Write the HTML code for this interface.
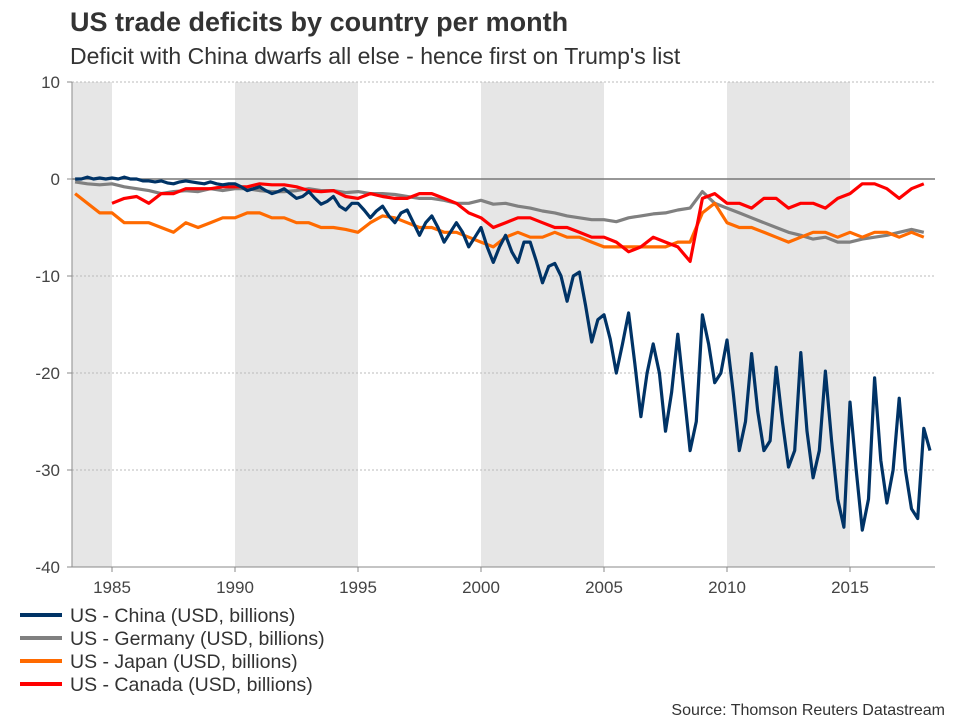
<!DOCTYPE html>
<html><head><meta charset="utf-8"><style>
body{margin:0;background:#fff;}
svg{display:block;font-family:"Liberation Sans",sans-serif;}
</style></head><body>
<svg id="chart" width="960" height="720" viewBox="0 0 960 720">
<text x="70" y="31" font-size="27" font-weight="bold" fill="#333">US trade deficits by country per month</text>
<text x="70" y="64" font-size="23" fill="#333">Deficit with China dwarfs all else - hence first on Trump's list</text>
<g id="bands"></g><g id="grid"></g><g id="axes"></g><g id="series"></g><g id="legend"></g>
<text x="945" y="715" font-size="16" fill="#333" text-anchor="end">Source: Thomson Reuters Datastream</text>
</svg>
<script>
const yTicks=[10,0,-10,-20,-30,-40];
const xTicks=[1985,1990,1995,2000,2005,2010,2015];
const bandsData=[[1983.4,1985],[1990,1995],[2000,2005],[2010,2015]];
const chinaStart=1983.5;
const china=[0,0, 0.2,0,0.1,0, 0.1,0,0.2,0, 0,-0.2,-0.2,-0.3, -0.2,-0.4,-0.5,-0.3, -0.2,-0.3,-0.4,-0.5, -0.3,-0.5,-0.6,-0.5,
-0.5,-0.8,-1.2,-1, -0.8,-1.2,-1.5,-1.3, -1,-1.5,-2,-1.8, -1.3,-2,-2.6,-2.3, -1.8,-2.8,-3.2,-2.5, -2.5,-3.2,-4,-3.3,
-2.8,-3.8,-4.5,-3.5, -3.2,-4.5,-5.8,-4.5, -3.8,-5,-6.5,-5.5, -4.5,-5.5,-7,-6, -5,-7,-8.6,-7, -5.8,-7.5,-8.6,-6.5,
-6.5,-8.5,-10.7,-9, -8.7,-10,-12.6,-10, -9.6,-13,-16.8,-14.5, -14,-16.5,-20,-17, -13.8,-19,-24.5,-20, -17,-20,-26,-22,
-16,-22,-28,-25, -14,-17,-21,-20, -16.6,-22,-28,-25, -18,-24,-28,-27, -19.4,-25,-29.7,-28, -17.9,-26,-30.8,-28,
-19.8,-27,-33,-35.9, -23,-30,-36.2,-33, -20.5,-29,-33.4,-30, -22.6,-30,-34,-35, -25.7,-28];
const semiStart=1983.5;
const germany=[-0.3, -0.5,-0.6, -0.5,-0.8, -1,-1.2, -1.5,-1.3, -1.2,-1.3, -1,-1.2, -1,-1, -1.2,-1.3, -1.3,-1.2, -1,-1.2, -1.2,-1.4, -1.3,-1.5,
-1.5,-1.6, -1.8,-2, -2,-2.2, -2.5,-2.5, -2.2,-2.6, -2.5,-2.8, -3,-3.3, -3.5,-3.8, -4,-4.2, -4.2,-4.4, -4,-3.8, -3.6,-3.5, -3.2,-3,
-1.3,-2.5, -3,-3.5, -4,-4.5, -5,-5.5, -5.8,-6.2, -6,-6.5, -6.5,-6.2, -6,-5.8, -5.5,-5.2, -5.5];
const japan=[-1.5, -2.5,-3.5, -3.5,-4.5, -4.5,-4.5, -5,-5.5, -4.5,-5, -4.5,-4, -4,-3.5, -3.5,-4, -4,-4.5, -4.5,-5, -5,-5.2, -5.5,-4.5,
-3.8,-4, -4.5,-5, -5,-5.5, -5.5,-6, -6.5,-7, -6,-5.5, -6,-6, -5.5,-6, -6,-6.5, -7,-7, -7,-7, -7,-7, -6.5,-6.5,
-3.5,-2.5, -4.5,-5, -5,-5.5, -6,-6.5, -6,-5.5, -5.5,-6, -5.5,-6, -5.5,-5.5, -6,-5.5, -6];
const canadaStart=1985;
const canada=[-2.5,-2, -1.8,-2.5, -1.5,-1.5, -1,-1, -1,-0.8, -0.8,-0.8, -0.5,-0.6, -0.6,-0.8, -1.2,-1.3, -1.2,-1.8, -2,-1.5,
-1.8,-2, -2,-1.5, -1.5,-2, -2.5,-3.5, -4,-5, -4.5,-4, -4,-4.5, -5,-5, -5.5,-6, -6,-6.5, -7.5,-7, -6,-6.5, -7,-8.5,
-2,-1.5, -2.5,-2.5, -3,-2, -2,-3, -2.5,-2.5, -3,-2, -1.5,-0.5, -0.5,-1, -2,-1, -0.5];
const seriesNames=["US - China (USD, billions)","US - Germany (USD, billions)","US - Japan (USD, billions)","US - Canada (USD, billions)"];
const NS="http://www.w3.org/2000/svg";
const X0=72,X1=935,Y0=82,Y1=567;
const xS=t=>112+(t-1985)*24.6;
const yS=v=>179-v*9.7;
function mk(tag,attrs,parent){const e=document.createElementNS(NS,tag);for(const k in attrs)e.setAttribute(k,attrs[k]);parent.appendChild(e);return e;}
const bands=document.getElementById('bands');
bandsData.forEach(b=>{const r=mk('rect',{x:xS(b[0]),y:Y0,width:xS(b[1])-xS(b[0]),height:Y1-Y0,fill:'#e6e6e6'},bands);

});
const grid=document.getElementById('grid');
yTicks.forEach(v=>{
 if(v!==0&&v!==-40){const l=mk('line',{x1:X0,x2:X1,y1:yS(v),y2:yS(v),stroke:'#bbb','stroke-dasharray':'2,2'},grid);
 
 }
 const t=mk('text',{x:60,y:yS(v)+6,'font-size':17,fill:'#444','text-anchor':'end'},grid);t.textContent=v;
 
 
 mk('line',{x1:X0-5,x2:X0,y1:yS(v),y2:yS(v),stroke:'#888'},grid);
});
const axes=document.getElementById('axes');
const z=mk('line',{x1:X0,x2:X1,y1:yS(0),y2:yS(0),stroke:'#777','stroke-width':1.5},axes);


mk('line',{x1:X0,x2:X0,y1:Y0,y2:Y1,stroke:'#888'},axes);
mk('line',{x1:X0,x2:X1,y1:Y1,y2:Y1,stroke:'#888'},axes);
xTicks.forEach(yr=>{mk('line',{x1:xS(yr),x2:xS(yr),y1:Y1,y2:Y1+5,stroke:'#888'},axes);
 const t=mk('text',{x:xS(yr),y:Y1+26,'font-size':17,fill:'#444','text-anchor':'middle'},axes);t.textContent=yr;
 
 });
const ser=document.getElementById('series');
function draw(vals,start,step,color,name){
 const d=vals.map((v,i)=>(i?'L':'M')+xS(start+i*step).toFixed(1)+','+yS(v).toFixed(1)).join('');
 const p=mk('path',{d:d,fill:'none',stroke:color,'stroke-width':3.2,'stroke-linejoin':'round'},ser);
 
 
}
draw(germany,semiStart,0.5,'#808080','germany-line');
draw(japan,semiStart,0.5,'#ff6a00','japan-line');
draw(canada,canadaStart,0.5,'#ff0000','canada-line');
draw(china,chinaStart,0.25,'#003366','china-line');
const colors=['#003366','#808080','#ff6a00','#ff0000'];
const lg=document.getElementById('legend');
seriesNames.forEach((n,i)=>{const y=615+i*23;
 const l=mk('line',{x1:20,x2:62,y1:y,y2:y,stroke:colors[i],'stroke-width':4},lg);
 
 
 const t=mk('text',{x:70,y:y+7,'font-size':19.5,fill:'#333'},lg);t.textContent=n;
 
 });
</script>
</body></html>
